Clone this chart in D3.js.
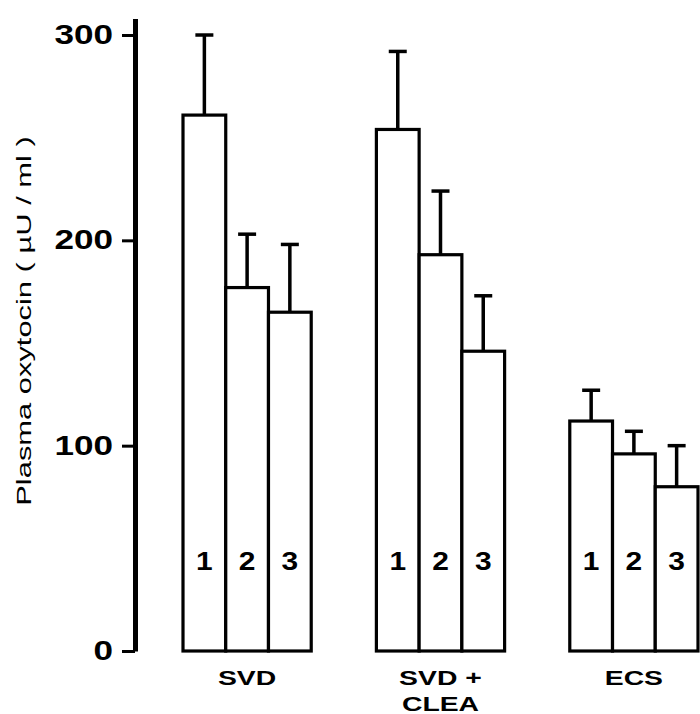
<!DOCTYPE html>
<html>
<head>
<meta charset="utf-8">
<script src="https://cdn.jsdelivr.net/npm/d3@7"></script>
<style>
  html, body { margin: 0; padding: 0; background: #fff; }
  svg { display: block; }
</style>
</head>
<body>
<svg id="chart" width="700" height="714"></svg>
<script>
// ---- data ----
const groups = ["SVD", "SVD + CLEA", "ECS"];
const groupLines = [["SVD"], ["SVD +", "CLEA"], ["ECS"]];
const subgroups = ["1", "2", "3"];
const means = [
  [261, 177, 165],
  [254, 193, 146],
  [112, 96, 80]
];
const errors = [
  [39, 26, 33],
  [38, 31, 27],
  [15, 11, 20]
];
const yTicks = [0, 100, 200, 300];
const yTitle = "Plasma oxytocin ( \u00B5U / ml )";

// ---- layout ----
const svg = d3.select("#chart");
const axisX = 135;
const yBase = 651;
const pxPerUnit = 2.0533;
const yTop = 308;

const y = d3.scaleLinear().domain([0, yTop]).range([yBase, yBase - yTop * pxPerUnit]);
const x0 = d3.scaleBand().domain(groups).range([183, 698]).paddingInner(0.337).paddingOuter(0);
const x1 = d3.scaleBand().domain(subgroups).range([0, x0.bandwidth()]).padding(0);

const ink = "#000";
const font = "'Liberation Sans', Arial, Helvetica, sans-serif";

function stretchText(sel, factor) {
  sel.each(function() {
    const w = this.getComputedTextLength();
    d3.select(this).attr("lengthAdjust", "spacingAndGlyphs").attr("textLength", w * factor);
  });
}

// ---- y axis ----
const axis = d3.axisLeft(y).tickValues(yTicks).tickSize(13).tickSizeOuter(0).tickPadding(9).tickFormat(d3.format("d"));
const gAxis = svg.append("g").attr("transform", `translate(${axisX},0)`).call(axis);
gAxis.select(".domain").attr("stroke", ink).attr("stroke-width", 5);
gAxis.selectAll(".tick line").attr("stroke", ink).attr("stroke-width", 3);
gAxis.selectAll(".tick text")
  .attr("fill", ink)
  .style("font-family", font)
  .style("font-weight", "bold")
  .style("font-size", "27px")
  .call(stretchText, 1.3);

// y title
svg.append("text")
  .attr("transform", `translate(31,321) rotate(-90)`)
  .attr("text-anchor", "middle")
  .style("font-family", font)
  .style("font-size", "21px")
  .attr("fill", ink)
  .text(yTitle)
  .call(stretchText, 1.47);

// ---- bars ----
groups.forEach((g, gi) => {
  const gg = svg.append("g").attr("transform", `translate(${x0(g)},0)`);
  subgroups.forEach((s, si) => {
    const v = means[gi][si];
    const e = errors[gi][si];
    const bx = x1(s);
    const bw = x1.bandwidth();
    const cx = bx + bw / 2;
    // error bar
    gg.append("line")
      .attr("x1", cx).attr("x2", cx)
      .attr("y1", y(v)).attr("y2", y(v + e))
      .attr("stroke", ink).attr("stroke-width", 3.5);
    gg.append("line")
      .attr("x1", cx - 9).attr("x2", cx + 9)
      .attr("y1", y(v + e)).attr("y2", y(v + e))
      .attr("stroke", ink).attr("stroke-width", 3.5);
    // bar
    gg.append("rect")
      .attr("x", bx).attr("width", bw)
      .attr("y", y(v)).attr("height", y(0) - y(v))
      .attr("fill", "#fff")
      .attr("stroke", ink).attr("stroke-width", 3.2);
    // number label
    gg.append("text")
      .attr("x", cx).attr("y", y(0) - 81)
      .attr("text-anchor", "middle")
      .style("font-family", font)
      .style("font-weight", "bold")
      .style("font-size", "26px")
      .attr("fill", ink)
      .text(s)
      .call(stretchText, 1.15);
  });
  // category label (one text per line)
  groupLines[gi].forEach((ln, li) => {
    svg.append("text")
      .attr("x", x0(g) + x0.bandwidth() / 2)
      .attr("y", 685 + li * 26)
      .attr("text-anchor", "middle")
      .style("font-family", font)
      .style("font-size", "21px")
      .style("font-weight", "bold")
      .attr("fill", ink)
      .text(ln)
      .call(stretchText, 1.35);
  });
});
</script>
</body>
</html>
